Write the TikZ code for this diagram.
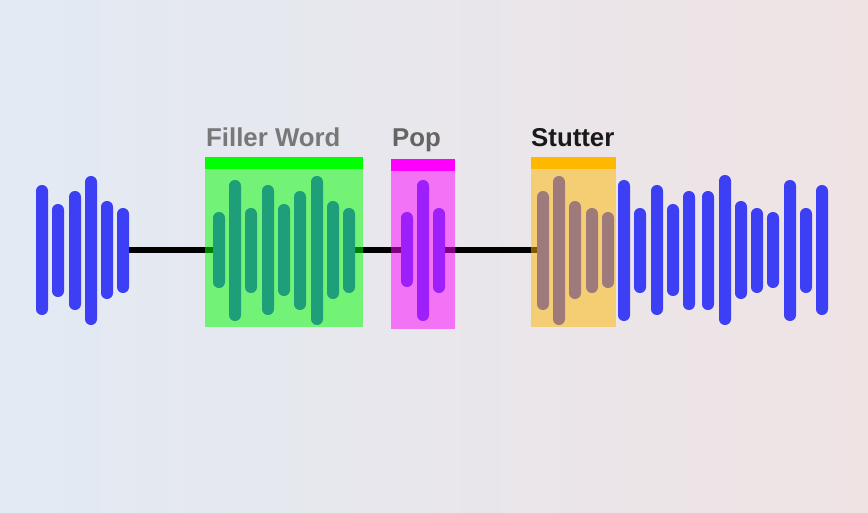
\documentclass[tikz,border=0pt]{standalone}
\usepackage{fontspec}
\setmainfont{Liberation Sans}
\definecolor{bgL}{RGB}{226,234,244}
\definecolor{bgR}{RGB}{239,227,228}
\definecolor{wave}{RGB}{61,63,245}
\definecolor{fillgreen}{RGB}{0,255,0}
\definecolor{popmag}{RGB}{255,0,255}
\definecolor{stutorange}{RGB}{255,184,0}
\definecolor{lblA}{RGB}{120,120,120}
\definecolor{lblB}{RGB}{100,100,100}
\definecolor{lblC}{RGB}{25,25,25}
\begin{document}
\begin{tikzpicture}[x=1pt,y=-1pt,
  bar/.style={fill=wave,rounded corners=5.9pt},
  silence/.style={draw=black,line width=6pt},
  overlay box/.style={fill=#1,fill opacity=0.5},
  band/.style={fill=#1},
  lbl/.style={anchor=base west,inner sep=0pt,font=\fontsize{25.8}{30}\selectfont\bfseries}]
\useasboundingbox (0,0) rectangle (868,512);
\shade[left color=bgL,right color=bgR] (0,0) rectangle (868,512);
% silent segments
\coordinate (s1a) at (123,250); \coordinate (s1b) at (219,250);
\coordinate (s2a) at (349,250); \coordinate (s2b) at (407,250);
\coordinate (s3a) at (439,250); \coordinate (s3b) at (543,250);
\draw[silence] (s1a) -- (s1b);
\draw[silence] (s2a) -- (s2b);
\draw[silence] (s3a) -- (s3b);
% waveform bars
\foreach \x/\t/\b in {42/185/315,58/204/297,75/191/310,91/176/325,107/201/299,123/208/293,
  219/212/288,235/180/321,251/208/293,268/185/315,284/204/296,300/191/310,317/176/325,333/201/299,349/208/293,
  407/212/287,423/180/321,439/208/293,
  543/191/310,559/176/325,575/201/299,592/208/293,608/212/288,
  624/180/321,640/208/293,657/185/315,673/204/296,689/191/310,
  708/191/310,725/175/325,741/201/299,757/208/293,773/212/288,790/180/321,806/208/293,822/185/315}
  {\fill[bar] (\x-6,\t) rectangle (\x+6,\b);}
% highlight boxes
\fill[overlay box=fillgreen] (205,157) rectangle (363,327);
\fill[band=fillgreen] (205,157) rectangle (363,169);
\fill[overlay box=popmag] (391,159) rectangle (455,329);
\fill[band=popmag] (391,159) rectangle (455,171);
\fill[overlay box=stutorange] (531,157) rectangle (616,327);
\fill[band=stutorange] (531,157) rectangle (616,169);
% labels
\node[lbl,text=lblA] (lfill) at (206,146) {Filler Word};
\node[lbl,text=lblB] (lpop) at (392,146) {Pop};
\node[lbl,text=lblC] (lstut) at (531,146) {Stutter};
\end{tikzpicture}
\end{document}
